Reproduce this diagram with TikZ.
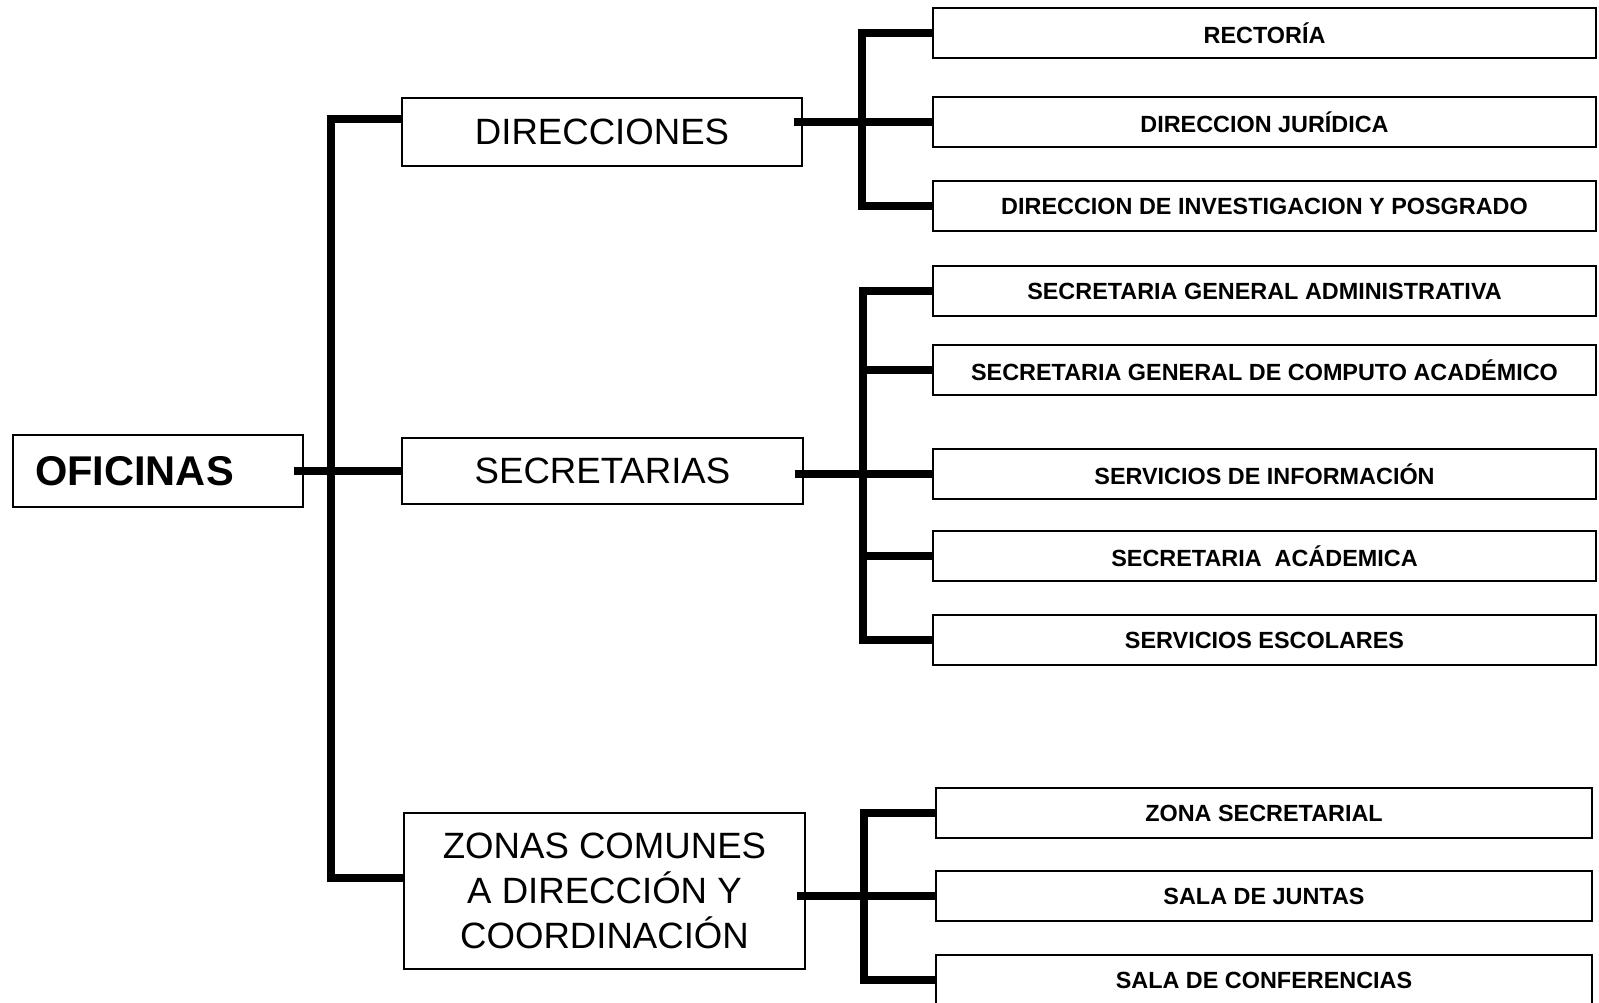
\documentclass[tikz,border=0pt]{standalone}
\usepackage{fontspec}
\setmainfont{Liberation Sans}

\tikzset{
  bigbox/.style={draw, line width=1.2pt, align=center, inner sep=0pt,
    font=\fontsize{18.3}{22.5}\selectfont},
  itembox/.style={draw, line width=1.2pt, inner sep=0pt,
    minimum width=331.5pt, minimum height=25pt,
    font=\bfseries\fontsize{11.7}{14}\selectfont},
  link/.style={line width=4pt, line join=miter},
}

\begin{document}
\begin{tikzpicture}[x=0.5pt, y=-0.5pt]
      \path[use as bounding box] (0, 0) rectangle (1599, 1002);

      % main boxes
      \node[bigbox, inner xsep=11pt, text width=123pt, align=left, minimum height=36pt,
            font=\bfseries\fontsize{20.8}{25}\selectfont] (ofi) at (158, 471) {OFICINAS};
      \node[bigbox, minimum width=200pt, minimum height=34pt] (dir) at (602, 132) {DIRECCIONES};
      \node[bigbox, minimum width=200.5pt, minimum height=33pt] (sec) at (602.5, 471) {SECRETARIAS};
      \node[bigbox, minimum width=200.5pt, minimum height=78pt] (zon) at (604.5, 891)
        {ZONAS COMUNES\\A DIRECCIÓN Y\\COORDINACIÓN};

      % D_i
      \foreach \i/\y/\txt in {1/33/RECTORÍA, 2/122/DIRECCION JURÍDICA,
                              3/206/DIRECCION DE INVESTIGACION Y POSGRADO} {
        \node[itembox] (D_\i) at (1264.5, \y) {\txt};
      }

      % S_i
      \foreach \i/\y/\txt in {1/291/SECRETARIA GENERAL ADMINISTRATIVA,
                              2/370/SECRETARIA GENERAL DE COMPUTO ACADÉMICO,
                              3/474/SERVICIOS DE INFORMACIÓN,
                              4/556/SECRETARIA\ \ ACÁDEMICA,
                              5/640/SERVICIOS ESCOLARES} {
        \node[itembox] (S_\i) at (1264.5, \y) {\txt};
      }

      % Z_i
      \foreach \i/\y/\txt in {1/813/ZONA SECRETARIAL, 2/896/SALA DE JUNTAS,
                              3/980/SALA DE CONFERENCIAS} {
        \node[itembox, minimum width=328pt] (Z_\i) at (1264, \y) {\txt};
      }

      \coordinate (trunk) at (331, 0);
      \coordinate (brkD) at (862, 0);
      \coordinate (brkS) at (863, 0);
      \coordinate (brkZ) at (864, 0);

      % trunk
      \draw[link] ([yshift=6.5pt]dir.west) -- ([yshift=6.5pt]dir.west -| trunk)
        -- ([yshift=6.5pt]zon.west -| trunk) -- ([yshift=6.5pt]zon.west);
      \draw[link] ([xshift=-5pt]ofi.east) -- (sec.west);

      % brackets
      \draw[link] (D_1.west) -- (D_1.west -| brkD) -- (D_3.west -| brkD) -- (D_3.west);
      \draw[link] ([xshift=-4.5pt]dir.east |- D_2.west) -- (D_2.west);

      \draw[link] (S_1.west) -- (S_1.west -| brkS) -- (S_5.west -| brkS) -- (S_5.west);
      \draw[link] (S_2.west -| brkS) -- (S_2.west);
      \draw[link] (S_4.west -| brkS) -- (S_4.west);
      \draw[link] ([xshift=-4.5pt]sec.east |- S_3.west) -- (S_3.west);

      \draw[link] (Z_1.west) -- (Z_1.west -| brkZ) -- (Z_3.west -| brkZ) -- (Z_3.west);
      \draw[link] ([xshift=-4.5pt]zon.east |- Z_2.west) -- (Z_2.west);
    \end{tikzpicture}
\end{document}
